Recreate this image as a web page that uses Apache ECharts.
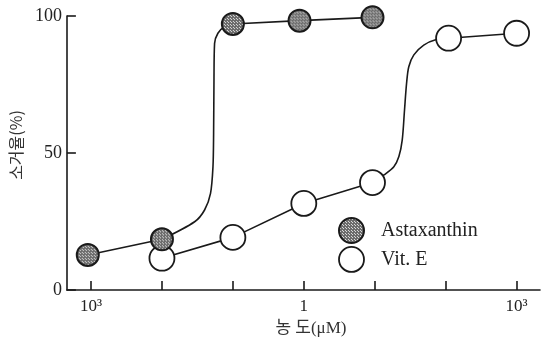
<!DOCTYPE html>
<html>
<head>
<meta charset="utf-8">
<script src="https://cdn.jsdelivr.net/npm/echarts@6/dist/echarts.min.js"></script>
<style>
html,body{margin:0;padding:0;background:#fff;}
#chart{width:550px;height:343px;}
</style>
</head>
<body>
<div id="chart"></div>
<script>
// ---- data ----
const seriesNames = ['Astaxanthin', 'Vit. E'];
// measured points (concentration in uM, scavenging %)
const astConc = [0.0009, 0.01, 0.1, 0.87, 9.3];
const astValues = [12.8, 18.5, 97.1, 98.3, 99.5];
const vitEConc = [0.01, 0.1, 1, 9.3, 110, 1000];
const vitEValues = [11.6, 19.2, 31.6, 39.2, 91.9, 93.7];
const astCurveConc = [0.0289, 0.0399, 0.0484, 0.0524, 0.0535, 0.0541, 0.0552, 0.0615, 0.0762];
const astCurveValues = [24.9, 29.2, 35.3, 45.0, 57.2, 75.4, 90.0, 93.7, 96.1];
const astCurveAfter = 1;   // curve sits between measured point 1 and 2
const vitECurveConc = [13.5, 18.6, 21.9, 24.4, 26.3, 28.1, 30.2, 35.6, 49.1, 75.7];
const vitECurveValues = [42.0, 45.0, 48.7, 54.7, 65.7, 75.4, 81.5, 85.8, 89.4, 91.5];
const vitECurveAfter = 3;  // curve sits between measured point 3 and 4
// axis ticks / labels
const xTickValues = [0.001, 0.01, 0.1, 1, 10, 100, 1000];
const xLabelValues = [0.001, 1, 1000];
const xLabelTexts = ['10³', '1', '10³'];
const yTicks = [0, 50, 100];
const xAxisTitle = '농 도(μM)';
const yAxisTitle = '소거율(%)';

function zip(xs, ys) { return xs.map((x, i) => [x, ys[i]]); }

// dotted fill pattern
const pat = document.createElement('canvas');
pat.width = 3; pat.height = 3;
const pctx = pat.getContext('2d');
pctx.fillStyle = '#6c6c6c';
pctx.fillRect(0, 0, 3, 3);
pctx.fillStyle = '#d8d8d8';
pctx.fillRect(1, 1, 1, 1);
pctx.fillRect(0, 0, 1, 1);

const astSize = 22;
const vitSize = 25;
// symbols are drawn as unit paths scaled by size/2, so counter-scale the pattern
const k = 2 / astSize;
const astMarkStyle = { color: { image: pat, repeat: 'repeat', scaleX: k, scaleY: k }, borderColor: '#1a1a1a', borderWidth: 2, opacity: 1 };
const astLegendStyle = { color: { image: pat, repeat: 'repeat' }, borderColor: '#1a1a1a', borderWidth: 2, opacity: 1 };
const vitStyle = { color: '#ffffff', borderColor: '#1a1a1a', borderWidth: 1.8, opacity: 1 };
const lineStyle = { color: '#1a1a1a', width: 1.6 };

const serif = '"Liberation Serif", "DejaVu Serif", serif';
const kr = '"Liberation Serif", "Noto Sans CJK KR", sans-serif';

function pathSeries(conc, vals, cConc, cVals, after, prefix) {
  const pts = zip(conc, vals);
  const out = [];
  const common = { type: 'line', showSymbol: false, lineStyle: lineStyle, z: 2, silent: true };
  const before = pts.slice(0, after + 1);
  if (before.length > 1) out.push(Object.assign({ name: prefix + ' a', data: before, smooth: false }, common));
  const curve = [pts[after]].concat(zip(cConc, cVals)).concat([pts[after + 1]]);
  out.push(Object.assign({ name: prefix + ' b', data: curve, smooth: 0.3 }, common));
  const rest = pts.slice(after + 1);
  if (rest.length > 1) out.push(Object.assign({ name: prefix + ' c', data: rest, smooth: false }, common));
  return out;
}

const chart = echarts.init(document.getElementById('chart'), null, { renderer: 'canvas' });
chart.setOption({
  animation: false,
  backgroundColor: '#ffffff',
  grid: { left: 65, right: 10, top: 16, bottom: 53, containLabel: false },
  legend: {
    orient: 'vertical',
    left: 338,
    top: 217,
    padding: 0,
    itemWidth: 25,
    itemHeight: 25,
    itemGap: 2,
    icon: 'circle',
    data: [
      { name: seriesNames[0], itemStyle: astLegendStyle },
      { name: seriesNames[1], itemStyle: vitStyle }
    ],
    textStyle: { fontFamily: serif, fontSize: 20, color: '#222', padding: [0, 0, 0, 12] }
  },
  xAxis: {
    type: 'log',
    logBase: 10,
    min: 0.000457,
    max: 2138,
    name: xAxisTitle,
    nameLocation: 'middle',
    nameGap: 28,
    nameTextStyle: { fontFamily: kr, fontSize: 17, color: '#333', padding: [0, 0, 0, 15] },
    axisLine: { lineStyle: { color: '#1a1a1a', width: 1.6 } },
    axisTick: { inside: true, length: 9, customValues: xTickValues, lineStyle: { color: '#1a1a1a', width: 1.6 } },
    axisLabel: {
      customValues: xLabelValues,
      margin: 8,
      fontFamily: serif, fontSize: 17, color: '#222',
      formatter: function (v) {
        for (let i = 0; i < xLabelValues.length; i++) {
          if (Math.abs(Math.log10(v) - Math.log10(xLabelValues[i])) < 1e-6) return xLabelTexts[i];
        }
        return '';
      }
    },
    splitLine: { show: false },
    minorTick: { show: false }
  },
  yAxis: {
    type: 'value',
    min: yTicks[0],
    max: yTicks[yTicks.length - 1],
    interval: 50,
    name: yAxisTitle,
    nameLocation: 'middle',
    nameGap: 38,
    nameRotate: 90,
    nameTextStyle: { fontFamily: '"Noto Sans CJK KR", sans-serif', fontSize: 16, color: '#333', padding: [0, 0, 0, 16] },
    axisLine: { show: true, lineStyle: { color: '#1a1a1a', width: 1.6 } },
    axisTick: { show: true, inside: true, length: 9, lineStyle: { color: '#1a1a1a', width: 1.6 } },
    axisLabel: { margin: 5, fontFamily: serif, fontSize: 18, color: '#222' },
    splitLine: { show: false }
  },
  series: [].concat(
    pathSeries(vitEConc, vitEValues, vitECurveConc, vitECurveValues, vitECurveAfter, 'Vit. E line'),
    pathSeries(astConc, astValues, astCurveConc, astCurveValues, astCurveAfter, 'Astaxanthin line'),
    [
      {
        name: seriesNames[1],
        type: 'scatter',
        data: zip(vitEConc, vitEValues),
        symbol: 'circle',
        symbolSize: vitSize,
        itemStyle: vitStyle,
        z: 3
      },
      {
        name: seriesNames[0],
        type: 'scatter',
        data: zip(astConc, astValues),
        symbol: 'circle',
        symbolSize: astSize,
        itemStyle: astMarkStyle,
        z: 4
      }
    ]
  )
});
</script>
</body>
</html>
